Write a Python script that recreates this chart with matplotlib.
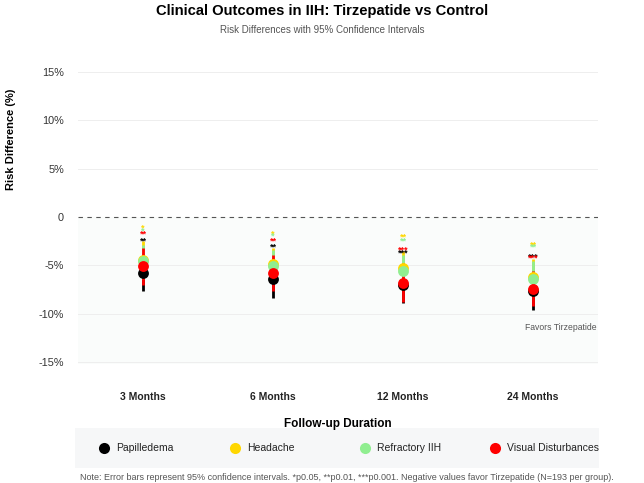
import matplotlib
matplotlib.use("Agg")
import matplotlib.pyplot as plt
from matplotlib.lines import Line2D
import numpy as np

plt.rcParams['font.family'] = ['Liberation Sans', 'DejaVu Sans']

# ---------------- data ----------------
timepoints = ["3 Months", "6 Months", "12 Months", "24 Months"]
series_names = ["Papilledema", "Headache", "Refractory IIH", "Visual Disturbances"]
series_colors = ["#000000", "#FFD700", "#90EE90", "#FF0000"]

papilledema_est = [-5.8, -6.4, -7.0, -7.6]
papilledema_lo = [-7.7, -8.4, -8.9, -9.6]
papilledema_hi = [-3.9, -4.5, -5.1, -5.5]
papilledema_sig = ["**", "**", "***", "***"]

headache_est = [-4.4, -4.9, -5.3, -6.2]
headache_lo = [-6.4, -6.7, -7.2, -8.1]
headache_hi = [-2.5, -3.2, -3.5, -4.3]
headache_sig = ["*", "*", "**", "**"]

refractory_est = [-4.6, -5.1, -5.6, -6.4]
refractory_lo = [-6.4, -6.8, -7.4, -8.3]
refractory_hi = [-2.9, -3.4, -3.9, -4.5]
refractory_sig = ["*", "*", "**", "**"]

visual_est = [-5.1, -5.8, -6.8, -7.4]
visual_lo = [-7.0, -7.7, -8.8, -9.2]
visual_hi = [-3.2, -3.9, -4.8, -5.6]
visual_sig = ["**", "**", "***", "***"]

yticks = [-15, -10, -5, 0, 5, 10, 15]
ytick_labels = ["-15%", "-10%", "-5%", "0", "5%", "10%", "15%"]

series = [
    (papilledema_est, papilledema_lo, papilledema_hi, papilledema_sig),
    (headache_est, headache_lo, headache_hi, headache_sig),
    (refractory_est, refractory_lo, refractory_hi, refractory_sig),
    (visual_est, visual_lo, visual_hi, visual_sig),
]

# ---------------- figure ----------------
fig = plt.figure(figsize=(6.44, 4.83), dpi=100)
ax = fig.add_axes([78 / 644, 1 - 364 / 483, 520 / 644, 294 / 483])

x = np.arange(len(timepoints))
ax.set_xlim(-0.5, len(timepoints) - 0.5)
ax.set_ylim(-15.2, 15.2)

# favourable region shading and grid
ax.axhspan(-15.2, 0, color="#2e8b57", alpha=0.025, lw=0, zorder=0)
for yt in yticks:
    if yt != 0:
        ax.axhline(yt, color="#eeeeee", lw=0.7, zorder=0.5)
ax.axhline(0, color="#555555", lw=0.8, ls=(0, (4, 4)), zorder=1)

for (est, lo, hi, sig), color in zip(series, series_colors):
    est = np.array(est)
    lo = np.array(lo)
    hi = np.array(hi)
    ax.errorbar(x, est, yerr=[est - lo, hi - est], fmt="o", color=color,
                ecolor=color, elinewidth=2.0, capsize=0, markersize=7.8,
                markeredgewidth=0, zorder=3)
    for xi, h, s in zip(x, hi, sig):
        ax.text(xi, h + 1.4, s, color=color, ha="center", va="center",
                fontsize=6.5, fontweight="bold", zorder=4)

ax.set_yticks(yticks)
ax.set_yticklabels(ytick_labels, color="#333333", fontsize=7.8)
ax.set_xticks(x)
ax.set_xticklabels(timepoints, fontweight="bold", fontsize=7.5, color="#222222")
ax.tick_params(axis="y", length=0, pad=10)
ax.tick_params(axis="x", length=0, pad=20)
for sp in ax.spines.values():
    sp.set_visible(False)

ax.set_ylabel("Risk Difference (%)", fontweight="bold", fontsize=8)
ax.yaxis.set_label_coords(-0.119, 0.765)
ax.set_xlabel("Follow-up Duration", fontweight="bold", fontsize=8.5, labelpad=12)

ax.text(0.998, -11.4, "Favors Tirzepatide", transform=ax.get_yaxis_transform(),
        ha="right", va="center", fontsize=6.2, color="#555555")

# titles
fig.text(0.5, 1 - 11 / 483, "Clinical Outcomes in IIH: Tirzepatide vs Control",
         ha="center", va="center", fontsize=10.6, fontweight="bold")
fig.text(0.5, 1 - 30 / 483, "Risk Differences with 95% Confidence Intervals",
         ha="center", va="center", fontsize=7, color="#555555")

# legend box (manual)
box = plt.Rectangle((75 / 644, 1 - 468 / 483), 524 / 644, 40 / 483,
                    transform=fig.transFigure, facecolor="#f6f7f8",
                    edgecolor="none", zorder=0)
fig.add_artist(box)
leg_x = [104, 235, 365, 495]
leg_y = 1 - 448 / 483
for name, color, lx in zip(series_names, series_colors, leg_x):
    fig.add_artist(Line2D([lx / 644], [leg_y], marker="o", color=color,
                          markersize=8, markeredgewidth=0, linestyle="none",
                          transform=fig.transFigure))
    fig.text((lx + 12) / 644, leg_y, name, ha="left", va="center",
             fontsize=7.5, color="#222222")

fig.text(80 / 644, 1 - 478 / 483,
         "Note: Error bars represent 95% confidence intervals. *p0.05, **p0.01, ***p0.001. "
         "Negative values favor Tirzepatide (N=193 per group).",
         ha="left", va="center", fontsize=6.5, color="#555555")

fig.savefig("out.png", dpi=100, facecolor="white")
